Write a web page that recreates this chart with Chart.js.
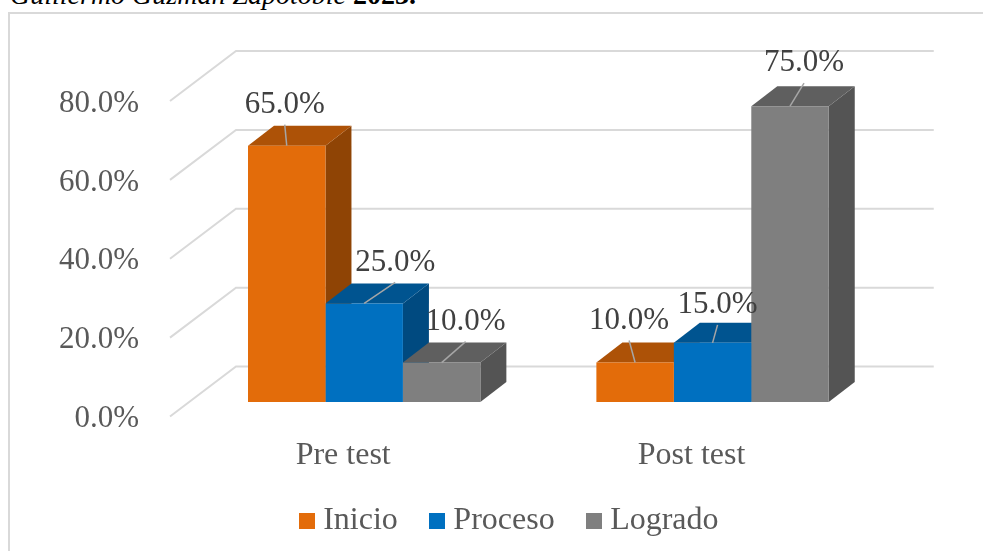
<!DOCTYPE html>
<html lang="es">
<head>
<meta charset="utf-8">
<style>
html,body{margin:0;padding:0;background:#fff;overflow:hidden;width:983px;height:551px}
#cap{position:absolute;left:10px;top:-21.5px;font:italic 28px "Liberation Serif",serif;color:#000;white-space:nowrap}
#frame{position:absolute;left:8px;top:12px;width:1000px;height:600px;border:2px solid #d9d9d9;box-sizing:border-box}
#wrap{position:absolute;left:0;top:0;width:983px;height:551px}
</style>
</head>
<body>
<div id="cap">Guillermo Guzmán Zapotoble <b style="font-style:normal">2023.</b></div>
<div id="frame"></div>
<div id="wrap"><canvas id="c" width="983" height="551"></canvas></div>
<script src="https://cdn.jsdelivr.net/npm/chart.js@4"></script>
<script>
const categories = ["Pre test", "Post test"];
const seriesNames = ["Inicio", "Proceso", "Logrado"];
const inicio = [65, 10];
const proceso = [25, 15];
const logrado = [10, 75];
const yTicks = [0, 20, 40, 60, 80];

const frontColors = ["#E36C0A", "#0070C0", "#7F7F7F"];
const topColors = ["#AD5207", "#005490", "#5F5F5F"];
const sideColors = ["#8F4405", "#004A80", "#545454"];
const depth = {dx: 26, dy: -20};
const labelShift = [[[-2,-41],[-6,-42]], [[31,-41],[5,-38]], [[24,-41],[14,-43]]];
const FONT = '"Liberation Serif", serif';

function swatch(color){
  const k = document.createElement('canvas');
  k.width = 16; k.height = 16;
  const x = k.getContext('2d');
  x.fillStyle = color; x.fillRect(0,0,16,16);
  return k;
}
const swatches = frontColors.map(swatch);

const scene = {
  id: 'scene',
  afterLayout(chart){
    chart.scales.x.bottom += 30;
    chart.scales.y.left = 0;
  },
  beforeDatasetsDraw(chart){
    const {ctx, chartArea:a, scales:{y}} = chart;
    ctx.save();
    ctx.strokeStyle = '#D9D9D9';
    ctx.lineWidth = 2;
    yTicks.forEach(v => {
      const p = y.getPixelForValue(v);
      ctx.beginPath();
      ctx.moveTo(a.left - 20, p + 14.5);
      ctx.lineTo(a.left + 46, p - 35.5);
      ctx.lineTo(a.right + 47, p - 35.5);
      ctx.stroke();
    });
    for (let i = 0; i < categories.length; i++) {
      for (let d = 0; d < seriesNames.length; d++) {
        const b = chart.getDatasetMeta(d).data[i].getProps(['x','y','base','width'], true);
        const l = b.x - b.width/2, r = b.x + b.width/2;
        ctx.fillStyle = sideColors[d];
        ctx.beginPath();
        ctx.moveTo(r, b.y); ctx.lineTo(r + depth.dx, b.y + depth.dy);
        ctx.lineTo(r + depth.dx, b.base + depth.dy); ctx.lineTo(r, b.base);
        ctx.closePath(); ctx.fill();
        ctx.fillStyle = topColors[d];
        ctx.beginPath();
        ctx.moveTo(l, b.y); ctx.lineTo(l + depth.dx, b.y + depth.dy);
        ctx.lineTo(r + depth.dx, b.y + depth.dy); ctx.lineTo(r, b.y);
        ctx.closePath(); ctx.fill();
      }
    }
    ctx.restore();
  },
  afterDatasetsDraw(chart){
    const {ctx} = chart;
    ctx.save();
    ctx.font = '31px ' + FONT;
    ctx.textAlign = 'center';
    ctx.textBaseline = 'middle';
    chart.data.datasets.forEach((ds, d) => {
      ds.data.forEach((v, i) => {
        const b = chart.getDatasetMeta(d).data[i].getProps(['x','y'], true);
        const [sx, sy] = labelShift[d][i];
        ctx.strokeStyle = '#A6A6A6';
        ctx.lineWidth = 1.5;
        ctx.beginPath();
        ctx.moveTo(b.x, b.y);
        ctx.lineTo(b.x + sx, b.y + sy + 20);
        ctx.stroke();
        ctx.fillStyle = '#404040';
        ctx.fillText(v.toFixed(1) + '%', b.x + sx, b.y + sy);
      });
    });
    ctx.restore();
  }
};

new Chart(document.getElementById('c'), {
  type: 'bar',
  data: {
    labels: categories,
    datasets: [
      {label: seriesNames[0], data: inicio, backgroundColor: frontColors[0]},
      {label: seriesNames[1], data: proceso, backgroundColor: frontColors[1]},
      {label: seriesNames[2], data: logrado, backgroundColor: frontColors[2]}
    ]
  },
  plugins: [scene],
  options: {
    responsive: false,
    animation: false,
    layout: {padding: {left: 138, right: 96.25, top: 86.5, bottom: 4}},
    datasets: {bar: {categoryPercentage: 0.667, barPercentage: 1, borderWidth: 0}},
    plugins: {
      tooltip: {enabled: false},
      legend: {
        position: 'bottom',
        labels: {
          usePointStyle: true,
          pointStyleWidth: 1,
          padding: 38.5,
          color: '#595959',
          font: {family: FONT, size: 32},
          generateLabels: chart => chart.data.datasets.map((ds, i) => ({
            text: ds.label, fontColor: '#595959', datasetIndex: i,
            pointStyle: swatches[i], fillStyle: frontColors[i], strokeStyle: frontColors[i], lineWidth: 0
          }))
        }
      }
    },
    scales: {
      x: {
        grid: {display: false, drawTicks: false},
        border: {display: false},
        afterFit: s => { s.height = 64.5; },
        ticks: {color: '#595959', padding: 34, labelOffset: -21, maxRotation: 0, font: {family: FONT, size: 32}}
      },
      y: {
        min: 0, max: 80,
        grid: {display: false, drawTicks: false},
        border: {display: false},
        afterFit: s => { s.width = 52; },
        ticks: {
          stepSize: 20, color: '#595959', padding: 51, labelOffset: 17,
          font: {family: FONT, size: 31},
          callback: v => v.toFixed(1) + '%'
        }
      }
    }
  }
});
</script>
</body>
</html>
